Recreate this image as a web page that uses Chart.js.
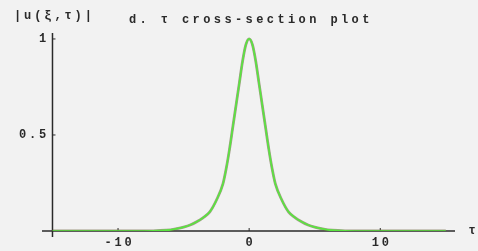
<!DOCTYPE html>
<html>
<head>
<meta charset="utf-8">
<script src="https://cdn.jsdelivr.net/npm/chart.js@4"></script>
<style>
  html, body { margin: 0; padding: 0; background: #f2f2f2; }
  #plot { display: block; }
</style>
</head>
<body>
<canvas id="plot" width="478" height="251"></canvas>
<script>
// tau values and |u|
var tauValues = [-15, -8, -7, -6, -5.5, -5, -4.5, -4, -3.5, -3, -2.5, -2, -1.75, -1.5, -1.25, -1, -0.75, -0.5, -0.25, 0,
  0.25, 0.5, 0.75, 1, 1.25, 1.5, 1.75, 2, 2.5, 3, 3.5, 4, 4.5, 5, 5.5, 6, 7, 8, 15];
var amplitudes = [0, 0, 0.002, 0.006, 0.012, 0.02, 0.031, 0.048, 0.07, 0.1, 0.16, 0.245, 0.325, 0.425, 0.54, 0.655, 0.77, 0.885, 0.97, 1,
  0.97, 0.885, 0.77, 0.655, 0.54, 0.425, 0.325, 0.245, 0.16, 0.1, 0.07, 0.048, 0.031, 0.02, 0.012, 0.006, 0.002, 0, 0];
var xTicks = [-10, 0, 10];
var xTickLabels = ['-10', '0', '10'];
var yTicks = [0.5, 1];
var yTickLabels = ['0.5', '1'];
var titleText = 'd. τ cross-section plot';
var yAxisTitle = '|u(ξ,τ)|';
var xAxisTitle = 'τ';

var points = [];
for (var i = 0; i < tauValues.length; i++) {
  points.push({ x: tauValues[i], y: amplitudes[i] });
}

var FONT = 'bold 12px "Liberation Mono", "DejaVu Sans Mono", monospace';
var INK = '#2a2a2a';

// draw text one char at a time so the pitch is wide like the original
function spaced(ctx, text, x, y, pitch, align) {
  var chars = Array.from(text);
  var w = (chars.length - 1) * pitch;
  var start = x;
  if (align === 'right') start = x - w;
  if (align === 'center') start = x - w / 2;
  ctx.textAlign = align === 'left' ? 'left' : 'center';
  for (var k = 0; k < chars.length; k++) {
    ctx.fillText(chars[k], start + k * pitch, y);
  }
}

var axesPlugin = {
  id: 'mathAxes',
  beforeDatasetsDraw: function (chart) {
    var ctx = chart.ctx;
    var xs = chart.scales.x, ys = chart.scales.y;
    var x0 = xs.getPixelForValue(-15);
    var y0 = ys.getPixelForValue(0);
    ctx.save();
    ctx.strokeStyle = INK;
    ctx.lineWidth = 1.5;
    // x axis
    ctx.beginPath();
    ctx.moveTo(chart.chartArea.left, y0);
    ctx.lineTo(chart.chartArea.right, y0);
    ctx.stroke();
    // y axis
    ctx.beginPath();
    ctx.moveTo(x0, chart.chartArea.top);
    ctx.lineTo(x0, y0 + 6);
    ctx.stroke();
    ctx.lineWidth = 1;
    xTicks.forEach(function (t) {
      var px = xs.getPixelForValue(t);
      ctx.beginPath();
      ctx.moveTo(px, y0);
      ctx.lineTo(px, y0 - 3);
      ctx.stroke();
    });
    yTicks.forEach(function (t) {
      var py = ys.getPixelForValue(t);
      ctx.beginPath();
      ctx.moveTo(x0, py);
      ctx.lineTo(x0 + 3, py);
      ctx.stroke();
    });

    ctx.fillStyle = INK;
    ctx.font = FONT;
    ctx.textBaseline = 'middle';
    xTicks.forEach(function (t, k) {
      spaced(ctx, xTickLabels[k], xs.getPixelForValue(t), y0 + 12, 10, 'center');
    });
    yTicks.forEach(function (t, k) {
      spaced(ctx, yTickLabels[k], x0 - 10, ys.getPixelForValue(t), 10, 'right');
    });
    spaced(ctx, xAxisTitle, chart.chartArea.right + 17, y0, 10, 'center');
    spaced(ctx, yAxisTitle, 14, 16, 10.1, 'left');
    spaced(ctx, titleText, 129, 20, 10.6, 'left');
    ctx.restore();
  }
};

var ctx = document.getElementById('plot');
var chart = new Chart(ctx, {
  type: 'line',
  data: {
    datasets: [
      {
        // green curve, on top
        data: points,
        borderColor: 'rgb(90, 228, 64)',
        borderWidth: 1.7,
        pointRadius: 0,
        cubicInterpolationMode: 'monotone',
        fill: false,
      },
      {
        // dark fringe under it
        data: points,
        borderColor: 'rgba(95, 85, 45, 0.55)',
        borderWidth: 2.8,
        pointRadius: 0,
        cubicInterpolationMode: 'monotone',
        fill: false,
      },
    ],
  },
  options: {
    responsive: false,
    animation: false,
    layout: { padding: { left: 42, right: 23, top: 33, bottom: 20 } },
    scales: {
      x: { type: 'linear', min: -15.8, max: 15.7, display: false },
      y: { min: 0, max: 1.031, display: false },
    },
    plugins: {
      legend: { display: false },
      tooltip: { enabled: false },
    },
  },
  plugins: [axesPlugin],
});
</script>
</body>
</html>
